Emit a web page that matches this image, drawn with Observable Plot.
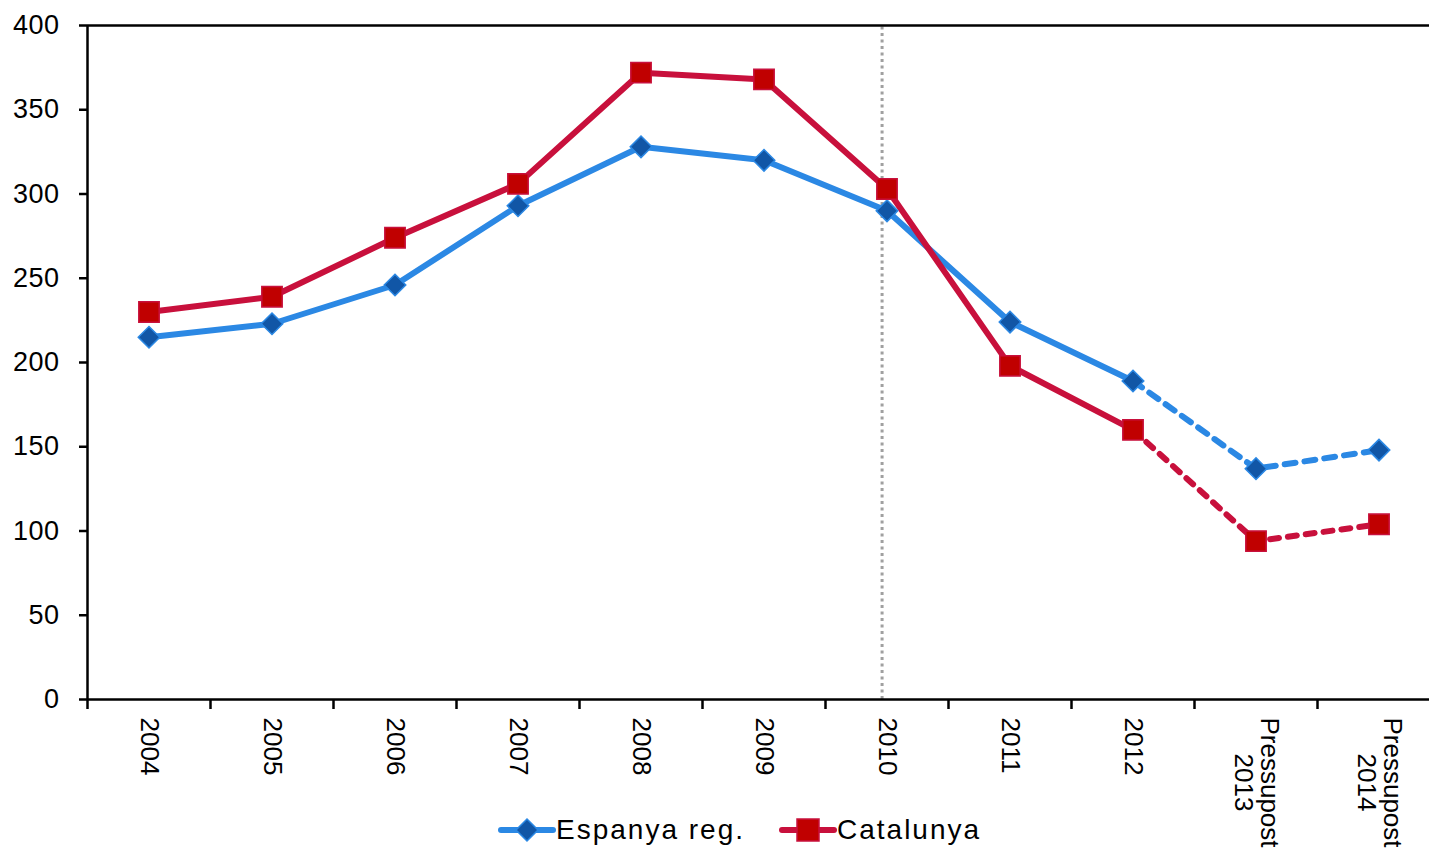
<!DOCTYPE html>
<html>
<head>
<meta charset="utf-8">
<script src="https://cdn.jsdelivr.net/npm/d3@7"></script>
<script src="https://cdn.jsdelivr.net/npm/@observablehq/plot@0.6"></script>
<style>
  html, body { margin: 0; padding: 0; background: #fff; overflow: hidden; }
  #wrap { position: relative; width: 1429px; height: 849px; overflow: hidden; }
  #chart svg { max-width: none !important; }
  g[aria-label="y-axis tick label"] text { letter-spacing: 0.5px; }
  #legend { position: absolute; left: 498px; top: 814px; font-family: "Liberation Sans", Arial, sans-serif; font-size: 28px; letter-spacing: 2px; color: #000; display: flex; align-items: center; white-space: nowrap; }
  #legend .item { display: flex; align-items: center; margin-right: 34px; }
  #legend svg { display: block; }
</style>
</head>
<body>
<div id="wrap">
  <div id="chart"></div>
  <div id="legend"></div>
</div>
<script>
// ---- data ----
const categories = ["2004", "2005", "2006", "2007", "2008", "2009", "2010", "2011", "2012", "Pressupost\n2013", "Pressupost\n2014"];
const seriesNames = ["Espanya reg.", "Catalunya"];
const espanya = [215, 223, 246, 293, 328, 320, 290, 224, 189, 137, 148];
const catalunya = [230, 239, 274, 306, 372, 368, 303, 198, 160, 94, 104];
const yTicks = [0, 50, 100, 150, 200, 250, 300, 350, 400];
const lastActualIndex = 8;      // 2012: solid up to here, dashed after
const markerLinePosition = 5.96; // dotted vertical line near 2010

// ---- styles ----
const blue = "#2b88e4", blueMarker = "#1156a6";
const red = "#c8103c", redMarker = "#c00000";

const rows = [];
categories.forEach((c, i) => {
  rows.push({i, v: espanya[i], s: seriesNames[0]});
  rows.push({i, v: catalunya[i], s: seriesNames[1]});
});
const solid = rows.filter(d => d.i <= lastActualIndex);
const dashed = rows.filter(d => d.i >= lastActualIndex);
const bySeries = (arr, name) => arr.filter(d => d.s === name);

const idx = d3.range(categories.length);
const singleLine = idx.filter(i => !categories[i].includes("\n"));
const multiLine = idx.filter(i => categories[i].includes("\n"));
const boundaries = d3.range(categories.length + 1).map(k => k - 0.5);

const chart = Plot.plot({
  width: 1450,
  height: 849,
  marginLeft: 87,
  marginRight: 10,
  marginTop: 25,
  marginBottom: 150,
  style: {fontFamily: "'Liberation Sans', Arial, sans-serif", color: "#000", background: "#fff", overflow: "visible"},
  x: {type: "linear", domain: [-0.5, categories.length - 0.5]},
  y: {domain: [0, 400]},
  marks: [
    Plot.ruleX([markerLinePosition], {y1: 0, y2: 400, stroke: "#a0a0a0", strokeWidth: 3, strokeDasharray: "3,3.5"}),
    Plot.ruleY([400], {stroke: "#000", strokeWidth: 2.5}),
    Plot.ruleY([0], {stroke: "#000", strokeWidth: 2.5}),
    Plot.ruleX([-0.5], {stroke: "#000", strokeWidth: 2.5}),
    Plot.axisY(yTicks, {tickSize: 8, tickPadding: 20, strokeWidth: 2.5, fontSize: 27, label: null, tickFormat: d => String(d)}),
    Plot.axisX(boundaries, {tickSize: 10, strokeWidth: 2.5, tickFormat: () => "", label: null}),
    Plot.axisX(singleLine, {tickSize: 0, tickPadding: 18, tickRotate: 90, fontSize: 26, label: null, tickFormat: i => categories[i]}),
    Plot.axisX(multiLine, {tickSize: 0, tickPadding: 18, tickRotate: 90, fontSize: 26, label: null, textAnchor: "middle", dy: 65, tickFormat: i => categories[i]}),
    // solid segments
    Plot.line(bySeries(solid, seriesNames[0]), {x: "i", y: "v", stroke: blue, strokeWidth: 6}),
    Plot.line(bySeries(solid, seriesNames[1]), {x: "i", y: "v", stroke: red, strokeWidth: 6}),
    // dashed segments
    Plot.line(bySeries(dashed, seriesNames[0]), {x: "i", y: "v", stroke: blue, strokeWidth: 6, strokeDasharray: "11,9", strokeLinecap: "round"}),
    Plot.line(bySeries(dashed, seriesNames[1]), {x: "i", y: "v", stroke: red, strokeWidth: 6, strokeDasharray: "9,9", strokeLinecap: "round"}),
    // markers
    Plot.dot(bySeries(rows, seriesNames[0]), {x: "i", y: "v", symbol: "diamond2", r: 9.7, fill: blueMarker, stroke: blue, strokeWidth: 1.5}),
    Plot.dot(bySeries(rows, seriesNames[1]), {x: "i", y: "v", symbol: "square", r: 11.5, fill: redMarker, stroke: red, strokeWidth: 1.5})
  ]
});
document.getElementById("chart").appendChild(chart);

// ---- legend ----
const legend = d3.select("#legend");
function swatch(item, color, markerColor, shape) {
  const svg = item.append("svg").attr("width", 58).attr("height", 30);
  svg.append("line").attr("x1", 3).attr("x2", 55).attr("y1", 15).attr("y2", 15)
    .attr("stroke", color).attr("stroke-width", 6).attr("stroke-linecap", "round");
  if (shape === "diamond") {
    svg.append("path").attr("d", "M29,4 L40,15 L29,26 L18,15 Z").attr("fill", markerColor).attr("stroke", color).attr("stroke-width", 1.5);
  } else {
    svg.append("rect").attr("x", 18).attr("y", 4).attr("width", 22).attr("height", 22).attr("fill", markerColor).attr("stroke", color).attr("stroke-width", 1.5);
  }
}
const it1 = legend.append("div").attr("class", "item");
swatch(it1, blue, blueMarker, "diamond");
it1.append("span").text(seriesNames[0]);
const it2 = legend.append("div").attr("class", "item");
swatch(it2, red, redMarker, "square");
it2.append("span").text(seriesNames[1]);
</script>
</body>
</html>
